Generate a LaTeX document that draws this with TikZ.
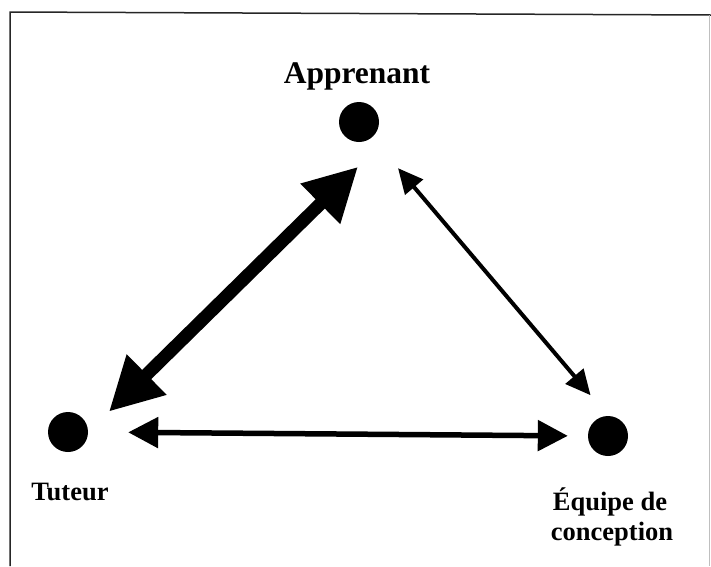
\documentclass[tikz,border=0pt]{standalone}
\usepackage{fontspec}
\setmainfont{Liberation Serif}
\usetikzlibrary{arrows.meta}
\tikzset{
  dot/.style={circle,fill=black,draw=none,minimum size=40pt,inner sep=0pt},
  lbl/.style={font=\bfseries\fontsize{26.5}{30}\selectfont,inner sep=0pt,anchor=base,align=center},
  frame/.style={line width=1.5pt,draw=black!85},
}
\begin{document}
\begin{tikzpicture}[x=1pt,y=-1pt]
\useasboundingbox (0,0) rectangle (711,566);
% frame
\draw[frame] (10,566) -- (10,12) -- (711,15);
\draw[line width=1pt,draw=black!25] (709,15) -- (709,566);
% dots
\node[dot] (A) at (359,122) {};
\node[dot] (T) at (68,432) {};
\node[dot] (E) at (608,436) {};
% labels
\node[lbl,font=\bfseries\fontsize{31.5}{34}\selectfont] (lA) at (357,83) {Apprenant};
\node[lbl] (lT) at (70,500) {Tuteur};
\node[lbl] (lE1) at (610,510) {Équipe de};
\node[lbl] (lE2) at (612,540) {conception};
% arrows
\draw[line width=13pt,{Triangle[length=53pt,width=53pt]}-{Triangle[length=53pt,width=53pt]},shorten <=35pt,shorten >=29pt] ([xshift=24pt]A.south) -- (T.east);
\draw[line width=4pt,{Triangle[length=25pt,width=23pt]}-{Triangle[length=25pt,width=23pt]},shorten <=34pt,shorten >=27pt] ([xshift=17pt]A.south) -- (E.north);
\draw[line width=5.5pt,{Triangle[length=30pt,width=30pt]}-{Triangle[length=30pt,width=30pt]},shorten <=40pt,shorten >=20pt] (T.east) -- (E.west);
\end{tikzpicture}
\end{document}
